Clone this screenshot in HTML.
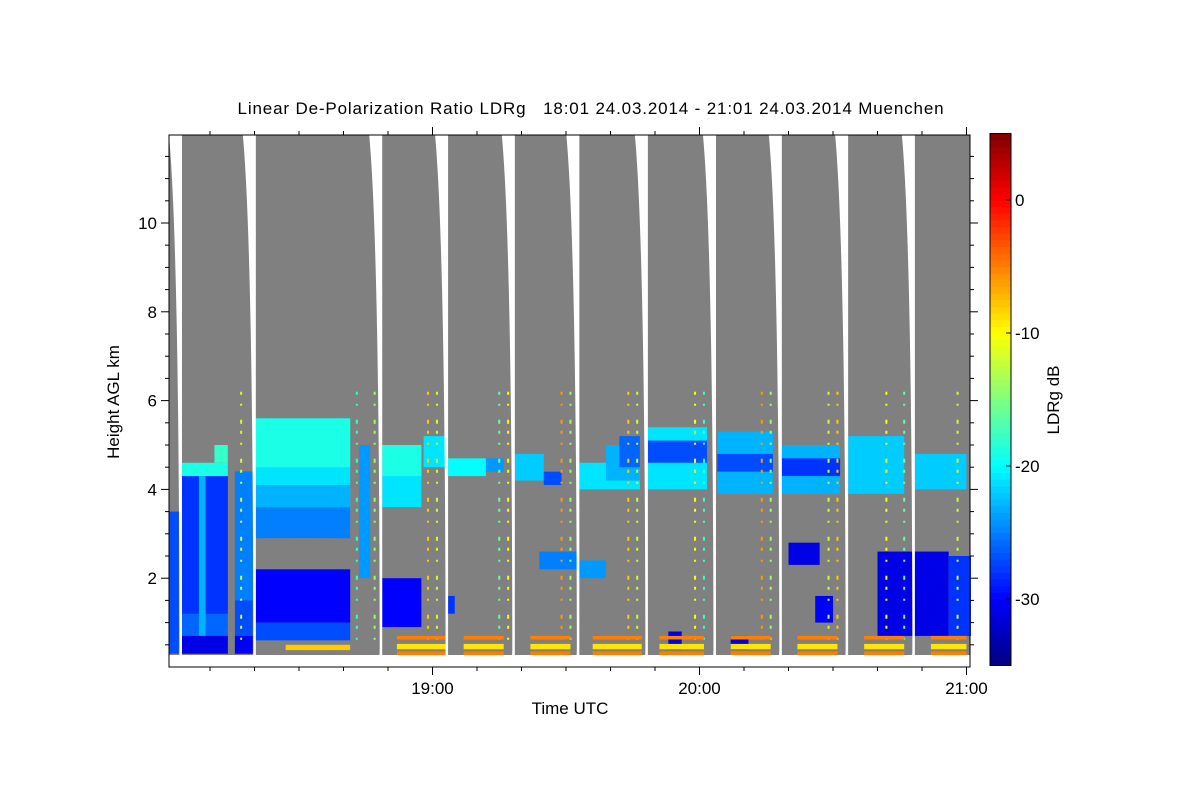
<!DOCTYPE html>
<html><head><meta charset="utf-8"><style>
body{margin:0;background:#fff;width:1200px;height:800px;overflow:hidden}
svg text{font-family:"Liberation Sans",sans-serif;fill:#000}
</style></head><body>
<svg id="chart" width="1200" height="800" xmlns="http://www.w3.org/2000/svg">
<text x="591" y="114" font-size="17" letter-spacing="0.85" text-anchor="middle" xml:space="preserve">Linear De-Polarization Ratio LDRg   18:01 24.03.2014 - 21:01 24.03.2014 Muenchen</text>
<text x="570" y="714" font-size="17" text-anchor="middle">Time UTC</text>
<text x="0" y="0" font-size="17" text-anchor="middle" transform="translate(119,402) rotate(-90)">Height AGL km</text>
<text x="0" y="0" font-size="17" text-anchor="middle" transform="translate(1059,400) rotate(-90)">LDRg dB</text>
<g id="plot"></g>
<g id="cbar"></g>
<g id="axes"></g>
</svg>
<script>
// patches: minutes since 18:00, heights km, LDR dB (99 = no signal/grey)
const patchStart=[0.8,3.7,3.7,7.5,3.7,3.7,11,15.6,15.6,15.6,20.3,20.3,20.3,20.3,22,20.3,20.3,27,48.7,48.7,48.7,58,63.5,72,63.5,78.5,85,84,93,93,99,102,108.4,108.4,124,124,138.5,138.5,153.4,168.4,160,140,176,113,127,146,43.5];
const patchEnd  =[3,14,14,9,14,14,14,19.6,19.6,19.6,41.5,41.5,41.5,41.5,38,41.5,41.5,41.5,57.5,57.5,57.5,63.5,72,76,65,85,89,93,99,106.6,106.6,106.6,121.7,121.7,136.5,136.5,151.6,151.6,166,180,176,147,181,116,131,150,46];
const patchBot  =[0.3,0.3,1.2,0.4,0.3,4.3,4.6,0.3,1.5,0.3,3.5,4.5,3.6,2.9,2.2,1.0,0.6,0.38,3.6,4.3,0.9,4.5,4.3,4.4,1.2,4.2,4.1,2.2,2.0,4.0,4.2,4.5,4.0,4.6,3.9,4.4,3.9,4.3,3.9,4.0,0.7,2.3,0.7,0.4,0.4,1.0,2.0];
const patchTop  =[3.5,4.3,4.3,4.3,0.7,4.6,5.0,4.4,4.4,0.7,5.6,5.6,4.1,3.6,2.9,2.2,1.0,0.5,5.0,5.0,2.0,5.2,4.7,4.7,1.6,4.8,4.4,2.6,2.4,4.6,5.0,5.2,5.4,5.1,5.3,4.8,5.0,4.7,5.2,4.8,2.6,2.8,2.5,0.8,0.7,1.6,5.0];
const patchVal  =[-27,-26,-28,-23,-31,-19,-18,-27,-25,-30,-21,-19,-23,-25,99,-30,-27,-8,-21,-19,-30,-21,-20,-24,-28,-22,-27,-25,-24,-21,-23,-26,-21,-27,-23,-27,-23,-28,-22,-22,-31,-31,-28,-31,-31,-30,-24];
const gapMinutes=[3.7,20.3,48.7,63.5,78.5,93,108.4,123.7,138.5,153.4,168.4];
const lineSections=[52,67,82,96,111,127,142,157,172];
const lineEnds=[63,76,91,107,121,136,151,166,180];
const speckleCols=[17,43,47,59,61,75,77,89,91,104,106,119,121,134,136,149,151,162,166,178];
const speckleVals=[-12,-18,-14,-8,-12,-16,-10,-6,-14,-8,-12,-10,-18,-6,-14,-12,-8,-10,-16,-12];
const xTickLabels=["19:00","20:00","21:00"];
const yTickLabels=[2,4,6,8,10];
const cbTickLabels=[0,-10,-20,-30];

const X0=165.5,PX=267/60,YB=667,PY=44.4,L=169,R=970,T=135;
const xs=m=>X0+m*PX, ys=h=>YB-h*PY;
const cbY=v=>200+(-v)*13.3;
function jet(v){let t=(v+35)/40;t=Math.max(0,Math.min(1,t));
 const f=x=>Math.max(0,Math.min(1,1.5-Math.abs(4*t-x)));
 return `rgb(${Math.round(255*f(3))},${Math.round(255*f(2))},${Math.round(255*f(1))})`;}
const NS="http://www.w3.org/2000/svg";
function mk(p,tag,at){const e=document.createElementNS(NS,tag);for(const k in at)e.setAttribute(k,at[k]);p.appendChild(e);return e;}
const plot=document.getElementById('plot');
const bg=mk(plot,'rect',{x:L,y:T,width:R-L,height:YB-T,fill:'#808080'});


for(let i=0;i<patchStart.length;i++){
 const fill=patchVal[i]>50?'#808080':jet(patchVal[i]);
 const r=mk(plot,'rect',{x:xs(patchStart[i]),y:ys(patchTop[i]),width:xs(patchEnd[i])-xs(patchStart[i]),height:ys(patchBot[i])-ys(patchTop[i]),fill:fill});
 
 
}
for(let i=0;i<speckleCols.length;i++){
 const x=xs(speckleCols[i]);
 const l=mk(plot,'line',{x1:x,y1:ys(6.2),x2:x,y2:ys(0.3),stroke:jet(speckleVals[i]),'stroke-width':2,'stroke-dasharray':'3 9 2 14 4 7'});
 
 
}
for(let i=0;i<lineSections.length;i++){
 [[0.62,0.7,-5],[0.4,0.52,-9],[0.27,0.35,-5]].forEach(b=>{
  const r=mk(plot,'rect',{x:xs(lineSections[i]),y:ys(b[1]),width:xs(lineEnds[i])-xs(lineSections[i]),height:ys(b[0])-ys(b[1]),fill:jet(b[2])});
  
  
 });
}
const bw=mk(plot,'rect',{x:L,y:ys(0.27),width:R-L,height:YB-ys(0.27),fill:'#fff'});


gapMinutes.forEach(g=>{
 const xr=xs(g);
 const p=mk(plot,'path',{d:`M${xr-13},${T} L${xr},${T} L${xr},${YB} L${xr-3},${YB} L${xr-2.5},${ys(0.4)} Q${xr-3},${T+110} ${xr-13},${T} Z`,fill:'#fff'});
 
 
});
const ax=document.getElementById('axes');
mk(ax,'rect',{x:L,y:T,width:R-L,height:YB-T,fill:'none',stroke:'#000','stroke-width':1});
for(let m=10;m<=180;m+=10){const x=xs(m),len=(m%60==0)?8:4;
 mk(ax,'line',{x1:x,y1:YB,x2:x,y2:YB+len,stroke:'#000'});
 mk(ax,'line',{x1:x,y1:T,x2:x,y2:T-len,stroke:'#000'});}
xTickLabels.forEach((s,i)=>{const t=mk(ax,'text',{x:xs(60*(i+1)),y:694,'font-size':17,'text-anchor':'middle'});t.textContent=s;
 
 });
for(let h=0.5;h<12;h+=0.5){const y=ys(h),len=(h%2==0)?8:4;
 mk(ax,'line',{x1:L,y1:y,x2:L-len,y2:y,stroke:'#000'});
 mk(ax,'line',{x1:R,y1:y,x2:R+len,y2:y,stroke:'#000'});}
yTickLabels.forEach(v=>{const t=mk(ax,'text',{x:157,y:ys(v)+6,'font-size':17,'text-anchor':'end'});t.textContent=v;
 
 });
const cb=document.getElementById('cbar');
for(let v=-35;v<5;v+=0.5){mk(cb,'rect',{x:990,y:cbY(v+0.5),width:21,height:cbY(v)-cbY(v+0.5)+0.5,fill:jet(v+0.25)});}
mk(cb,'rect',{x:990,y:cbY(5),width:21,height:cbY(-35)-cbY(5),fill:'none',stroke:'#000'});
cbTickLabels.forEach(v=>{mk(cb,'line',{x1:1011,y1:cbY(v),x2:1006,y2:cbY(v),stroke:'#000'});
 const t=mk(cb,'text',{x:1015,y:cbY(v)+6,'font-size':17});t.textContent=v;
 
 });
</script>
</body></html>
